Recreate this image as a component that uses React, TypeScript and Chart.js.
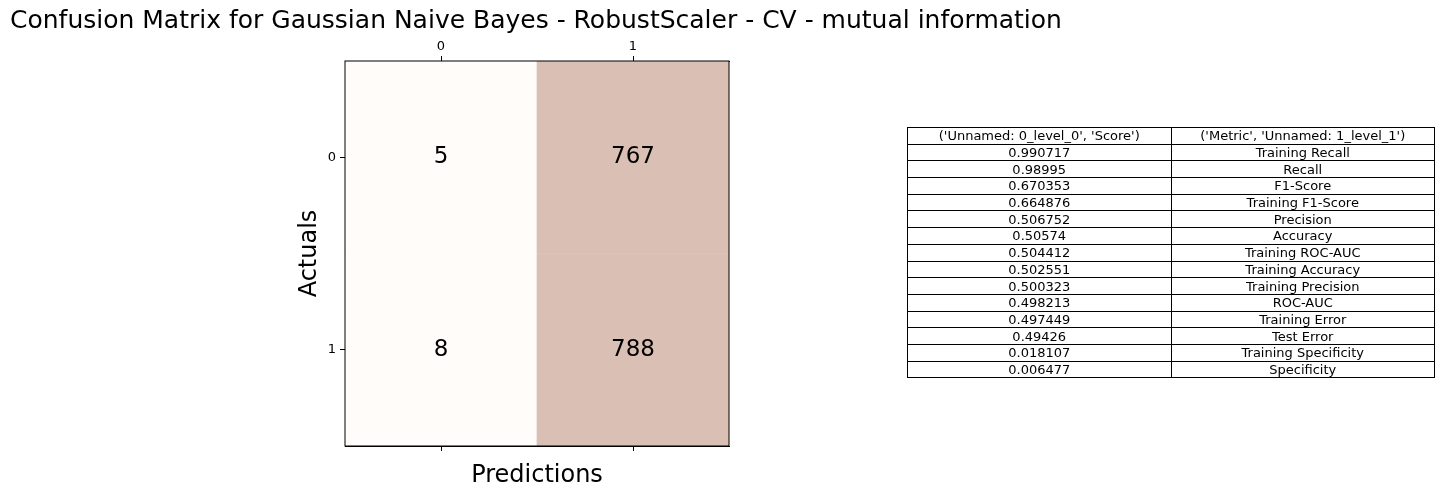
import React, { useEffect, useRef } from "react";
import Chart from "chart.js/auto";

const predLabels = ["0", "1"];
const actualLabels = [0, 1];
const matrix = [
  [5, 767],
  [8, 788],
];
const cellColors = [
  ["#fffcfa", "#d9bfb4"],
  ["#fffcfa", "#d9bfb4"],
];
const tableHeader = ["('Unnamed: 0_level_0', 'Score')", "('Metric', 'Unnamed: 1_level_1')"];
const scores = [
  "0.990717", "0.98995", "0.670353", "0.664876", "0.506752", "0.50574", "0.504412",
  "0.502551", "0.500323", "0.498213", "0.497449", "0.49426", "0.018107", "0.006477",
];
const metrics = [
  "Training Recall", "Recall", "F1-Score", "Training F1-Score", "Precision", "Accuracy",
  "Training ROC-AUC", "Training Accuracy", "Training Precision", "ROC-AUC", "Training Error",
  "Test Error", "Training Specificity", "Specificity",
];

const font = "'DejaVu Sans', sans-serif";

const App = () => {
  const chartRef = useRef<HTMLCanvasElement>(null);

  useEffect(() => {
    const ctx = chartRef.current?.getContext("2d");
    if (!ctx) return;

    const cellText = {
      id: "cellText",
      afterDatasetsDraw(chart: any) {
        const c = chart.ctx;
        const xs = chart.scales.x;
        const ys = chart.scales.y;
        c.save();
        c.fillStyle = "#000";
        c.font = `23px ${font}`;
        c.textAlign = "center";
        c.textBaseline = "middle";
        matrix.forEach((row, r) =>
          row.forEach((v, col) => {
            c.fillText(String(v), xs.getPixelForValue(col), ys.getPixelForValue(r));
          })
        );
        const a = chart.chartArea;
        c.strokeStyle = "#000";
        c.lineWidth = 1;
        c.strokeRect(a.left, a.top, a.right - a.left, a.bottom - a.top);
        c.restore();
      },
    };

    const tickGrid = { display: true, drawOnChartArea: false, tickLength: 5, color: "#000", offset: false };

    const chart = new Chart(ctx, {
      type: "bar",
      data: {
        labels: predLabels,
        datasets: actualLabels.map((r) => ({
          data: matrix[r].map(() => [r - 0.5, r + 0.5]) as any,
          backgroundColor: cellColors[r],
          barPercentage: 1,
          categoryPercentage: 1,
          grouped: false,
          borderWidth: 0,
        })),
      },
      options: {
        animation: false,
        responsive: false,
        layout: { padding: { left: 295, right: 716, top: 31, bottom: 0 } },
        plugins: { legend: { display: false }, tooltip: { enabled: false } },
        scales: {
          x: {
            type: "category",
            position: "bottom",
            grid: tickGrid,
            border: { color: "#000" },
            ticks: { display: false },
            title: { display: true, text: "Predictions", color: "#000", font: { family: font, size: 24 }, padding: 0 },
            afterFit: (s: any) => { s.height = 44; },
          },
          x2: {
            type: "category",
            position: "top",
            labels: predLabels,
            offset: true,
            grid: tickGrid,
            border: { color: "#000" },
            ticks: { color: "#000", font: { family: font, size: 13 }, padding: 2 },
            afterFit: (s: any) => { s.height = 30; },
          },
          y: {
            type: "linear",
            min: -0.5,
            max: 1.5,
            reverse: true,
            grid: tickGrid,
            border: { color: "#000" },
            afterBuildTicks: (s: any) => { s.ticks = actualLabels.map((v) => ({ value: v })); },
            ticks: { color: "#000", font: { family: font, size: 13 }, padding: 4 },
            title: { display: true, text: "Actuals", color: "#000", font: { family: font, size: 24 }, padding: 0 },
            afterFit: (s: any) => { s.width = 50; },
          },
        },
      },
      plugins: [cellText],
    });

    return () => chart.destroy();
  }, []);

  const cell: React.CSSProperties = {
    border: "1px solid #000",
    padding: 0,
    height: 15.7,
    lineHeight: "15px",
    textAlign: "center",
    width: "50%",
  };

  return (
    <div style={{ position: "fixed", left: 0, top: 0, width: 1445, height: 490, background: "#fff", fontFamily: font }}>
      <canvas ref={chartRef} width={1445} height={490} style={{ position: "absolute", left: 0, top: 0 }} />
      <div style={{ position: "absolute", left: 10, top: 5, fontSize: 25, color: "#000", whiteSpace: "nowrap" }}>
        Confusion Matrix for Gaussian Naive Bayes - RobustScaler - CV - mutual information
      </div>
      <table
        style={{
          position: "absolute",
          left: 907,
          top: 127,
          width: 528,
          borderCollapse: "collapse",
          fontSize: 13,
          fontFamily: font,
          color: "#000",
        }}
      >
        <tbody>
          <tr>
            <td style={cell}>{tableHeader[0]}</td>
            <td style={cell}>{tableHeader[1]}</td>
          </tr>
          {scores.map((s, i) => (
            <tr key={i}>
              <td style={cell}>{s}</td>
              <td style={cell}>{metrics[i]}</td>
            </tr>
          ))}
        </tbody>
      </table>
    </div>
  );
};

export default App;
